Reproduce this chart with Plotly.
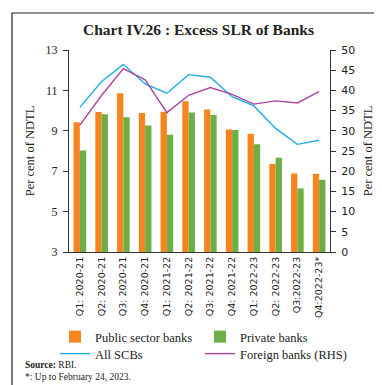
import plotly.graph_objects as go

categories = ["Q1: 2020-21", "Q2: 2020-21", "Q3: 2020-21", "Q4: 2020-21",
              "Q1: 2021-22", "Q2: 2021-22", "Q3: 2021-22", "Q4: 2021-22",
              "Q1: 2022-23", "Q2: 2022-23", "Q3:2022-23", "Q4:2022-23*"]
public_sector = [9.42, 9.93, 10.86, 9.88, 9.93, 10.46, 10.06, 9.07, 8.86, 7.36, 6.88, 6.87]
private_banks = [8.03, 9.82, 9.67, 9.26, 8.81, 9.90, 9.78, 9.04, 8.33, 7.67, 6.15, 6.58]
all_scbs = [10.16, 11.44, 12.29, 11.32, 10.86, 11.78, 11.65, 10.69, 10.23, 9.12, 8.33, 8.53]
foreign_banks = [31.4, 38.8, 45.4, 42.6, 34.5, 38.8, 40.7, 39.0, 36.6, 37.4, 36.9, 39.7]

W, H = 382, 385
ML, MR, MT, MB = 61, 60, 42, 141
PW, PH = W - ML - MR, H - MT - MB

def px(x):
    return (x - ML) / PW

def py(y):
    return (H - MB - y) / PH

ORANGE = "#F6841F"
GREEN = "#6DAE45"
BLUE = "#1FAEE6"
MAGENTA = "#A8469E"
SERIF = "Liberation Serif"
SANS = "DejaVu Sans"
TXT = "#222"

fig = go.Figure()
fig.add_trace(go.Bar(x=categories, y=public_sector, name="Public sector banks",
                     marker=dict(color=ORANGE, line=dict(width=0)), legend="legend"))
fig.add_trace(go.Bar(x=categories, y=private_banks, name="Private banks",
                     marker=dict(color=GREEN, line=dict(width=0)), legend="legend2"))
fig.add_trace(go.Scatter(x=categories, y=all_scbs, name="All SCBs", mode="lines",
                         line=dict(color=BLUE, width=1.4), legend="legend3"))
fig.add_trace(go.Scatter(x=categories, y=foreign_banks, name="Foreign banks (RHS)", mode="lines",
                         line=dict(color=MAGENTA, width=1.4), yaxis="y2", legend="legend4"))

def leg(x, y):
    return dict(orientation="v", x=px(x), y=py(y), xanchor="left", yanchor="middle",
                font=dict(family=SERIF, size=12.5, color=TXT), borderwidth=0,
                bgcolor="rgba(0,0,0,0)", itemwidth=30)

fig.update_layout(
    template="none",
    width=W, height=H,
    margin=dict(l=ML, r=MR, t=MT, b=MB, autoexpand=False),
    paper_bgcolor="white", plot_bgcolor="white",
    barmode="group", bargap=0.42, bargroupgap=0,
    showlegend=True,
    legend=leg(47, 329), legend2=leg(192, 329), legend3=leg(47, 346), legend4=leg(192, 346),
    xaxis=dict(showline=True, linecolor="#333", linewidth=1, ticks="", tickangle=-90,
               tickfont=dict(family=SANS, size=9.5, color=TXT), showgrid=False, automargin=False),
    yaxis=dict(range=[3, 13], dtick=2, tick0=3, showline=True, linecolor="#333", linewidth=1,
               ticks="outside", ticklen=5, tickcolor="#333", showgrid=False, zeroline=False,
               automargin=False, ticklabelstandoff=3,
               tickfont=dict(family=SERIF, size=12, color=TXT),
               title=dict(text="Per cent of NDTL", font=dict(family=SERIF, size=12.5, color=TXT), standoff=8)),
    yaxis2=dict(range=[0, 50], dtick=5, overlaying="y", side="right", showline=True,
                linecolor="#333", linewidth=1, ticks="outside", ticklen=5, tickcolor="#333",
                showgrid=False, zeroline=False, automargin=False, ticklabelstandoff=3,
                tickfont=dict(family=SANS, size=11, color=TXT),
                title=dict(text="Per cent of NDTL", font=dict(family=SERIF, size=12.5, color=TXT), standoff=9)),
    shapes=[dict(type="rect", xref="paper", yref="paper", x0=px(4), x1=px(373), y0=py(378), y1=py(5),
                 line=dict(color="#222", width=1.2), fillcolor="rgba(0,0,0,0)", layer="below")],
    annotations=[
        dict(text="<b>Chart IV.26 : Excess SLR of Banks</b>", xref="paper", yref="paper",
             x=px(190), y=py(22), xanchor="center", yanchor="middle", showarrow=False,
             font=dict(family=SERIF, size=15.5, color=TXT)),
        dict(text="<b>Source:</b> RBI.", xref="paper", yref="paper", x=px(15), y=py(357),
             xanchor="left", yanchor="middle", showarrow=False,
             font=dict(family=SERIF, size=9.5, color=TXT)),
        dict(text="*: Up to February 24, 2023.", xref="paper", yref="paper", x=px(15), y=py(369),
             xanchor="left", yanchor="middle", showarrow=False,
             font=dict(family=SERIF, size=9.5, color=TXT)),
    ],
)

fig.write_html("out.html")
